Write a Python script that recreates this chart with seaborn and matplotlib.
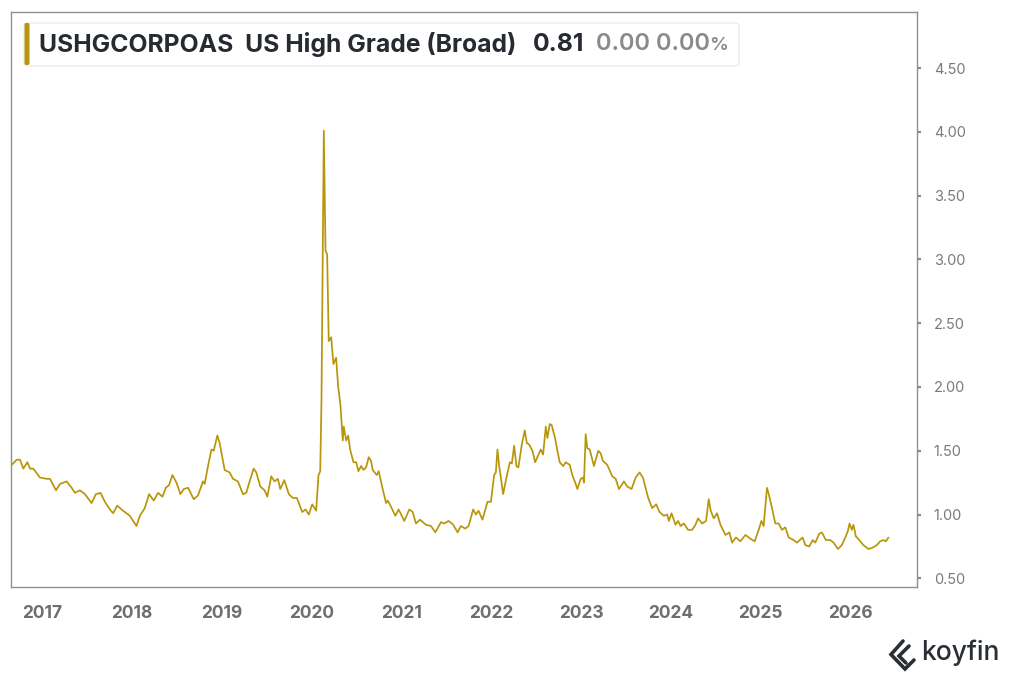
import pandas as pd
import matplotlib.pyplot as plt
import seaborn as sns
from matplotlib.patches import FancyBboxPatch
from matplotlib.lines import Line2D

# Values (decimal year, spread in %)
years = [
    2016.663, 2016.719, 2016.756, 2016.792, 2016.837, 2016.867, 2016.903, 2016.978,
    2017.052, 2017.089, 2017.156, 2017.200, 2017.274, 2017.330, 2017.367, 2017.422,
    2017.478, 2017.552, 2017.600, 2017.652, 2017.700, 2017.756, 2017.792, 2017.837,
    2017.903, 2017.978, 2018.014, 2018.052, 2018.089, 2018.144, 2018.192, 2018.244,
    2018.292, 2018.341, 2018.378, 2018.414, 2018.452, 2018.497, 2018.541, 2018.578,
    2018.626, 2018.689, 2018.737, 2018.792, 2018.811, 2018.848, 2018.886, 2018.911,
    2018.952, 2018.978, 2019.033, 2019.089, 2019.126, 2019.181, 2019.237, 2019.274,
    2019.311, 2019.356, 2019.386, 2019.430, 2019.478, 2019.508, 2019.552, 2019.589,
    2019.626, 2019.652, 2019.697, 2019.748, 2019.792, 2019.837, 2019.897, 2019.933,
    2019.970, 2020.008, 2020.052, 2020.078, 2020.097, 2020.111, 2020.137, 2020.156,
    2020.174, 2020.192, 2020.219, 2020.244, 2020.274, 2020.297, 2020.322, 2020.348,
    2020.359, 2020.386, 2020.408, 2020.430, 2020.467, 2020.497, 2020.522, 2020.552,
    2020.578, 2020.608, 2020.637, 2020.663, 2020.681, 2020.726, 2020.748, 2020.792,
    2020.830, 2020.848, 2020.886, 2020.933, 2020.970, 2021.033, 2021.089, 2021.126,
    2021.163, 2021.208, 2021.274, 2021.330, 2021.378, 2021.441, 2021.478, 2021.526,
    2021.578, 2021.626, 2021.663, 2021.711, 2021.748, 2021.800, 2021.830, 2021.859,
    2021.903, 2021.959, 2021.997, 2022.033, 2022.052, 2022.070, 2022.089, 2022.108,
    2022.133, 2022.170, 2022.208, 2022.230, 2022.256, 2022.281, 2022.303, 2022.341,
    2022.374, 2022.397, 2022.422, 2022.459, 2022.489, 2022.526, 2022.552, 2022.578,
    2022.608, 2022.626, 2022.652, 2022.674, 2022.711, 2022.737, 2022.763, 2022.800,
    2022.830, 2022.874, 2022.903, 2022.941, 2022.959, 2022.997, 2023.022, 2023.033,
    2023.052, 2023.070, 2023.097, 2023.144, 2023.192, 2023.219, 2023.244, 2023.292,
    2023.348, 2023.386, 2023.422, 2023.478, 2023.514, 2023.563, 2023.608, 2023.652,
    2023.689, 2023.748, 2023.792, 2023.837, 2023.874, 2023.922, 2023.959, 2023.978,
    2024.008, 2024.052, 2024.081, 2024.108, 2024.144, 2024.192, 2024.237, 2024.274,
    2024.303, 2024.348, 2024.392, 2024.422, 2024.444, 2024.478, 2024.514, 2024.552,
    2024.608, 2024.652, 2024.681, 2024.726, 2024.774, 2024.830, 2024.886, 2024.933,
    2024.978, 2025.008, 2025.033, 2025.070, 2025.097, 2025.126, 2025.163, 2025.200,
    2025.237, 2025.274, 2025.311, 2025.367, 2025.403, 2025.467, 2025.497, 2025.541,
    2025.578, 2025.608, 2025.652, 2025.681, 2025.726, 2025.774, 2025.811, 2025.859,
    2025.903, 2025.948, 2025.970, 2025.989, 2026.014, 2026.033, 2026.059, 2026.097,
    2026.144, 2026.200, 2026.244, 2026.292, 2026.330, 2026.367, 2026.392, 2026.422,
]
spread = [
    1.39, 1.43, 1.43, 1.36, 1.41, 1.36, 1.36, 1.29,
    1.28, 1.28, 1.19, 1.24, 1.26, 1.21, 1.17, 1.19,
    1.16, 1.09, 1.16, 1.17, 1.10, 1.04, 1.01, 1.07,
    1.03, 0.99, 0.95, 0.91, 0.99, 1.05, 1.16, 1.11,
    1.17, 1.14, 1.21, 1.23, 1.31, 1.25, 1.16, 1.20,
    1.21, 1.12, 1.15, 1.26, 1.24, 1.38, 1.51, 1.50,
    1.62, 1.56, 1.35, 1.33, 1.28, 1.26, 1.16, 1.17,
    1.26, 1.36, 1.33, 1.22, 1.19, 1.14, 1.30, 1.26,
    1.28, 1.20, 1.27, 1.16, 1.13, 1.13, 1.02, 1.04,
    1.00, 1.08, 1.03, 1.31, 1.34, 1.89, 4.01, 3.07,
    3.04, 2.36, 2.39, 2.18, 2.23, 2.00, 1.86, 1.58,
    1.69, 1.58, 1.62, 1.51, 1.41, 1.41, 1.34, 1.38,
    1.35, 1.37, 1.45, 1.42, 1.35, 1.31, 1.34, 1.20,
    1.09, 1.11, 1.06, 0.99, 1.04, 0.95, 1.04, 1.02,
    0.93, 0.96, 0.92, 0.91, 0.86, 0.94, 0.93, 0.95,
    0.92, 0.86, 0.91, 0.89, 0.91, 1.04, 1.00, 1.03,
    0.96, 1.10, 1.10, 1.31, 1.33, 1.51, 1.38, 1.29,
    1.16, 1.29, 1.41, 1.40, 1.54, 1.38, 1.37, 1.55,
    1.66, 1.56, 1.55, 1.50, 1.41, 1.47, 1.51, 1.47,
    1.69, 1.60, 1.71, 1.70, 1.60, 1.50, 1.41, 1.38,
    1.41, 1.39, 1.31, 1.24, 1.20, 1.28, 1.29, 1.25,
    1.63, 1.52, 1.51, 1.38, 1.50, 1.48, 1.42, 1.39,
    1.30, 1.28, 1.20, 1.26, 1.22, 1.20, 1.29, 1.33,
    1.29, 1.13, 1.05, 1.08, 1.02, 0.99, 1.00, 0.95,
    1.01, 0.92, 0.95, 0.91, 0.93, 0.88, 0.88, 0.92,
    0.97, 0.93, 0.95, 1.12, 1.03, 0.97, 1.01, 0.92,
    0.84, 0.86, 0.78, 0.82, 0.79, 0.84, 0.81, 0.79,
    0.88, 0.95, 0.91, 1.21, 1.14, 1.05, 0.93, 0.93,
    0.88, 0.90, 0.82, 0.80, 0.78, 0.82, 0.76, 0.75,
    0.80, 0.78, 0.85, 0.86, 0.80, 0.80, 0.78, 0.73,
    0.76, 0.83, 0.87, 0.93, 0.88, 0.92, 0.83, 0.80,
    0.76, 0.73, 0.74, 0.76, 0.79, 0.80, 0.79, 0.82,
]
year_ticks = [2017, 2018, 2019, 2020, 2021, 2022, 2023, 2024, 2025, 2026]
value_ticks = [0.5, 1.0, 1.5, 2.0, 2.5, 3.0, 3.5, 4.0, 4.5]

df = pd.DataFrame({"year": years, "spread": spread})

sns.set_theme(style="white")
plt.rcParams['font.family'] = ['Inter', 'DejaVu Sans']

W, H = 1024, 683
fig = plt.figure(figsize=(W / 100, H / 100), dpi=100)
ax = fig.add_axes([11 / W, 1 - 587 / H, (917 - 11) / W, (587 - 12) / H])

gold = "#B8960C"
sns.lineplot(data=df, x="year", y="spread", ax=ax, color=gold, linewidth=1.25)

ax.set_xlim(2016.655, 2026.74)
ax.set_ylim(0.432, 4.94)
ax.set_xlabel("")
ax.set_ylabel("")

frame = "#8f8f8f"
for s in ax.spines.values():
    s.set_visible(True)
    s.set_color(frame)
    s.set_linewidth(1.0)

ax.yaxis.tick_right()
ax.set_yticks(value_ticks)
ax.set_yticklabels([f"{v:.2f}" for v in value_ticks])
ax.tick_params(axis="y", length=3, width=1.6, color="#8a8a8a", pad=9,
               labelsize=10.5, labelcolor="#7a7a7a")
ax.set_xticks(year_ticks)
ax.set_xticklabels([str(y) for y in year_ticks])
ax.tick_params(axis="x", length=6, width=1.0, color="#9a9a9a", pad=7,
               labelsize=12.5, labelcolor="#6e6e6e")
for lab in ax.get_xticklabels():
    lab.set_fontweight("bold")
ax.grid(False)

# legend box at top-left
def fx(px):
    return px / W

def fy(py):
    return 1 - py / H

box = FancyBboxPatch((fx(24), fy(66)), fx(739) - fx(24), fy(23) - fy(66),
                     boxstyle="round,pad=0,rounding_size=0.004",
                     transform=fig.transFigure, facecolor="white",
                     edgecolor="#ececec", linewidth=1.0, zorder=5)
fig.patches.append(box)
bar = FancyBboxPatch((fx(24.5), fy(65)), fx(29.5) - fx(24.5), fy(23) - fy(65),
                     boxstyle="round,pad=0,rounding_size=0.002",
                     transform=fig.transFigure, facecolor=gold,
                     edgecolor="none", zorder=6)
fig.patches.append(bar)

fig.text(fx(39), fy(44.5), "USHGCORPOAS  US High Grade (Broad)", fontsize=17.8,
         fontweight="bold", color="#262a31", va="center", ha="left", zorder=7)
fig.text(fx(533), fy(44.5), "0.81", fontsize=17.8, fontweight="bold",
         color="#262a31", va="center", ha="left", zorder=7)
fig.text(fx(710), fy(44.5), "0.00 0.00", fontsize=17, fontweight="semibold",
         color="#8a8a8a", va="center", ha="right", zorder=7)
fig.text(fx(709), fy(46), "%", fontsize=13.5, fontweight="semibold",
         color="#8a8a8a", va="center", ha="left", zorder=7)

# koyfin logo
dark = "#2a2e35"
fig.lines.append(Line2D([fx(903), fx(891), fx(905), fx(914)],
                        [fy(641), fy(654.5), fy(669), fy(660)],
                        transform=fig.transFigure, color=dark, linewidth=2.6,
                        solid_joinstyle="miter"))
fig.lines.append(Line2D([fx(909), fx(899), fx(906)],
                        [fy(646), fy(656), fy(663)],
                        transform=fig.transFigure, color=dark, linewidth=2.6,
                        solid_joinstyle="miter"))
fig.text(fx(921), fy(653), "koyfin", fontsize=19, fontweight="medium",
         color=dark, va="center", ha="left")

fig.savefig("out.png", dpi=100, facecolor="white")
